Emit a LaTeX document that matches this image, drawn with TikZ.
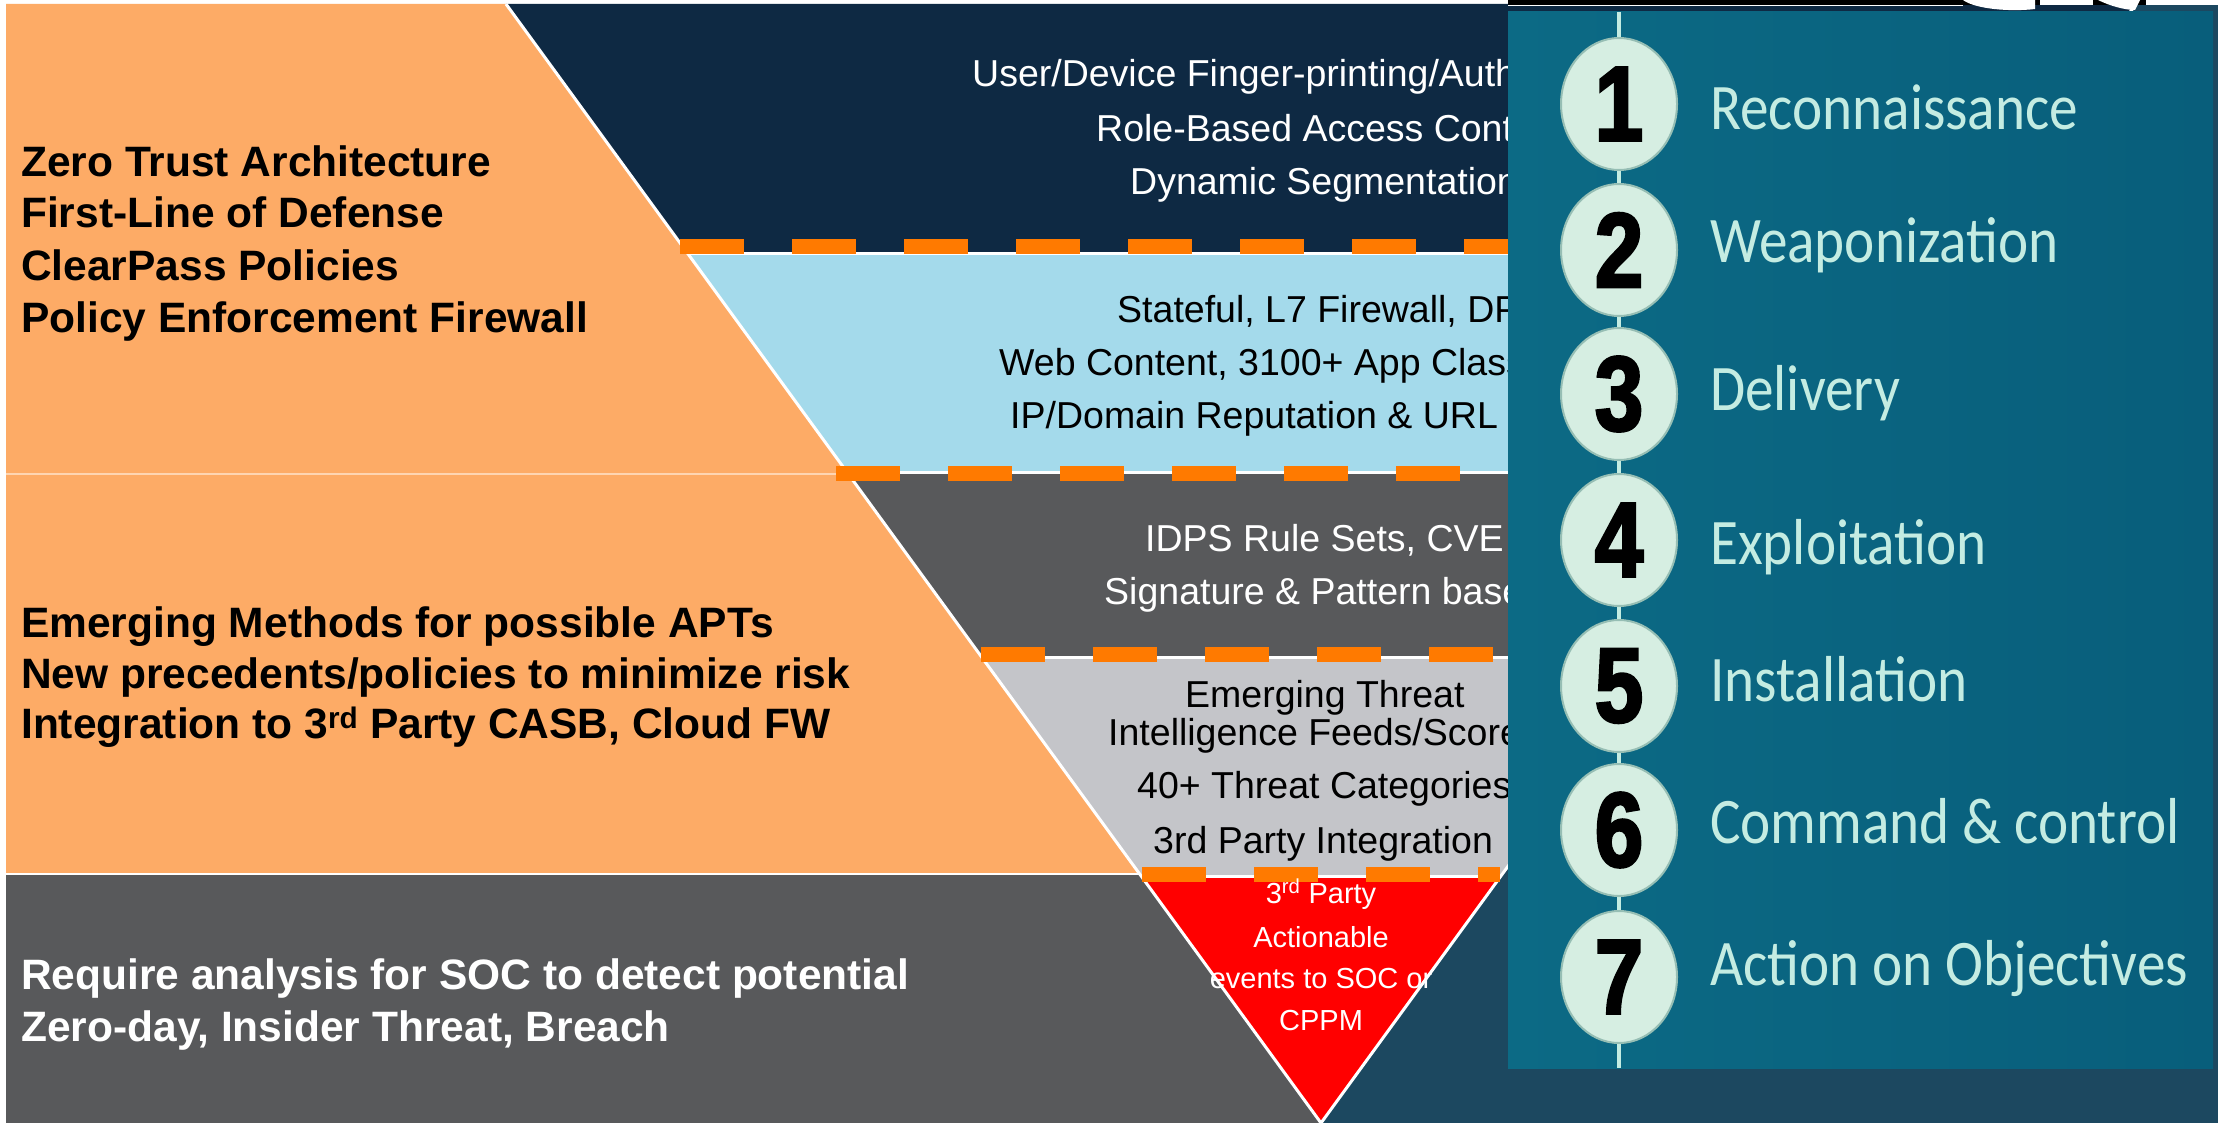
\documentclass[tikz,border=0pt]{standalone}
\usepackage{fontspec}
\setmainfont{Liberation Sans}
\newfontfamily\chainfont[FakeStretch=0.88]{Carlito}
\newfontfamily\digitfont[FakeStretch=0.82, FakeBold=2.5]{Liberation Sans}
\usetikzlibrary{shapes.geometric}

\definecolor{peach}{RGB}{253,171,102}
\definecolor{navy}{RGB}{14,41,67}
\definecolor{skyblue}{RGB}{164,218,235}
\definecolor{slate}{RGB}{88,89,91}
\definecolor{silver}{RGB}{196,197,201}
\definecolor{signalred}{RGB}{255,0,0}
\definecolor{dashorange}{RGB}{255,122,0}
\definecolor{deepteal}{RGB}{28,72,96}
\definecolor{chainteal}{RGB}{8,94,123}
\definecolor{chaintealL}{RGB}{12,106,133}
\definecolor{mint}{RGB}{196,236,226}
\definecolor{bead}{RGB}{214,238,226}
\definecolor{beadedge}{RGB}{150,190,180}

\tikzset{
  layertext/.style={inner sep=0pt, anchor=base west, font=\fontsize{37.5}{45}\selectfont},
  sidetext/.style={inner sep=0pt, anchor=base west, font=\fontsize{42.5}{50}\selectfont\bfseries},
  apextext/.style={inner sep=0pt, anchor=base, text=white, font=\fontsize{29}{34}\selectfont},
  layerdash/.style={draw=dashorange, line width=15pt, dash pattern=on 64pt off 48pt},
  seam/.style={draw=white, line width=3pt},
  bead/.style={ellipse, fill=bead, draw=beadedge, line width=2pt, minimum width=116pt,
    minimum height=132pt, inner sep=0pt, text=black,
    font=\digitfont\bfseries\fontsize{106}{106}\selectfont},
  stagelabel/.style={inner sep=0pt, anchor=base west, text=mint,
    font=\chainfont\fontsize{65}{70}\selectfont},
}

\begin{document}
\begin{tikzpicture}[x=1pt,y=-1pt]
\useasboundingbox (0,0) rectangle (2218,1123);

% page background and white margins
\fill[deepteal] (0,0) rectangle (2218,1123);
\fill[white] (0,0) rectangle (1508,4);
\fill[white] (0,0) rectangle (6,1123);

% left-hand panels, bounded by the funnel edge
\fill[peach] (6,4) -- (506,4) -- (848.3,474) -- (6,474) -- cycle;
\fill[peach] (6,474) -- (848.3,474) -- (1139.6,874) -- (6,874) -- cycle;
\fill[slate] (6,874) -- (1139.6,874) -- (1321,1123) -- (6,1123) -- cycle;
\draw[white, opacity=0.5, line width=2pt] (6,474) -- (848.3,474);
\draw[white, line width=2pt] (6,874) -- (1139.6,874);

% funnel layers
\fill[navy] (506,4) -- (2136,4) -- (1953.9,254) -- (688.1,254) -- cycle;
\fill[skyblue] (688.1,254) -- (1953.9,254) -- (1795.2,472) -- (846.8,472) -- cycle;
\fill[slate] (846.8,472) -- (1795.2,472) -- (1660.4,657) -- (981.6,657) -- cycle;
\fill[silver] (981.6,657) -- (1660.4,657) -- (1500.9,876) -- (1141.1,876) -- cycle;
\fill[signalred] (1141.1,876) -- (1500.9,876) -- (1321,1123) -- cycle;

% funnel outline and layer seams
\draw[seam] (506,4) -- (1321,1123) -- (2136,4);
\draw[seam] (688.1,254) -- (1953.9,254);
\draw[seam] (846.8,472) -- (1795.2,472);
\draw[seam] (981.6,657) -- (1660.4,657);
\draw[seam] (1141.1,876) -- (1500.9,876);

% dashed separators
\draw[layerdash] (680,246.5) -- (1953,246.5);
\draw[layerdash] (836,473.5) -- (1795,473.5);
\draw[layerdash] (981,654) -- (1660,654);
\draw[layerdash] (1142,874) -- (1500,874);

% left-hand statements
\node[sidetext] (zt1) at (21,177) {Zero Trust Architecture};
\node[sidetext] (zt2) at (21,228) {First-Line of Defense};
\node[sidetext] (zt3) at (21,280) {ClearPass Policies};
\node[sidetext] (zt4) at (21,332) {Policy Enforcement Firewall};
\node[sidetext] (em1) at (21,637) {Emerging Methods for possible APTs};
\node[sidetext] (em2) at (21,688) {New precedents/policies to minimize risk};
\node[sidetext] (em3) at (21,738) {Integration to 3\textsuperscript{rd} Party CASB, Cloud FW};
\node[sidetext, text=white] (soc1) at (21,989) {Require analysis for SOC to detect potential};
\node[sidetext, text=white] (soc2) at (21,1041) {Zero-day, Insider Threat, Breach};

% funnel layer contents
\node[layertext, text=white] (n1) at (972,87) {User/Device Finger-printing/Auth};
\node[layertext, text=white] (n2) at (1096,142) {Role-Based Access Cont};
\node[layertext, text=white] (n3) at (1130,195) {Dynamic Segmentation};
\node[layertext] (b1) at (1117,322) {Stateful, L7 Firewall, DP};
\node[layertext] (b2) at (999,375) {Web Content, 3100+ App Class};
\node[layertext] (b3) at (1010,428) {IP/Domain Reputation \& URL F};
\node[layertext, text=white] (g1) at (1145,551) {IDPS Rule Sets, CVE};
\node[layertext, text=white] (g2) at (1104,604) {Signature \& Pattern base};
\node[layertext] (s1) at (1185,707) {Emerging Threat};
\node[layertext] (s2) at (1108,745) {Intelligence Feeds/Score};
\node[layertext] (s3) at (1137,798) {40+ Threat Categories};
\node[layertext] (s4) at (1153,853) {3rd Party Integration};
\node[apextext] (r1) at (1321,903) {3\textsuperscript{rd} Party};
\node[apextext] (r2) at (1321,947) {Actionable};
\node[apextext] (r3) at (1321,988) {events to SOC or};
\node[apextext] (r4) at (1321,1030) {CPPM};

% kill-chain panel
\shade[left color=chaintealL, right color=chainteal] (1508,12) rectangle (2213,1068);
\fill[black] (1508,0) rectangle (2218,5);
\draw[white, line width=1.2pt] (1508,5.5) -- (1963,5.5);
\fill[white] (1963,0) .. controls (1975,9) and (2010,12) .. (2035,9) -- (2035,0) -- cycle;
\fill[white] (2040,0) rectangle (2093,5);
\fill[white] (2098,0) .. controls (2110,6) and (2125,10) .. (2135,10) -- (2140,0) -- cycle;
\fill[white] (2146,0) rectangle (2218,5);

\coordinate (chaintop) at (1619,12);
\coordinate (chainbot) at (1619,1068);
\draw[mint, line width=4pt] (chaintop) -- (chainbot);

\node[bead] (c1) at (1619,104) {1};
\node[bead] (c2) at (1619,250) {2};
\node[bead] (c3) at (1619,394) {3};
\node[bead] (c4) at (1619,540) {4};
\node[bead] (c5) at (1619,686) {5};
\node[bead] (c6) at (1619,830) {6};
\node[bead] (c7) at (1619,977) {7};

\node[stagelabel] (l1) at (1710,130) {Reconnaissance};
\node[stagelabel] (l2) at (1710,263) {Weaponization};
\node[stagelabel] (l3) at (1710,410) {Delivery};
\node[stagelabel] (l4) at (1710,564) {Exploitation};
\node[stagelabel] (l5) at (1710,701) {Installation};
\node[stagelabel] (l6) at (1710,843) {Command \& control};
\node[stagelabel] (l7) at (1710,985) {Action on Objectives};
\end{tikzpicture}
\end{document}
